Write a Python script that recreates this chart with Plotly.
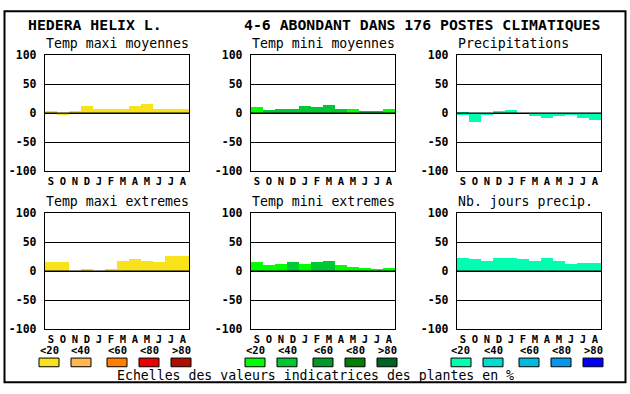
import plotly.graph_objects as go

W, H = 630, 394

# ---------------- data ----------------
months = ["S", "O", "N", "D", "J", "F", "M", "A", "M", "J", "J", "A"]
panel_titles = ["Temp maxi moyennes", "Temp mini moyennes", "Precipitations",
                "Temp maxi extremes", "Temp mini extremes", "Nb. jours precip."]
header_left = "HEDERA HELIX L."
header_right = "4-6 ABONDANT DANS 176 POSTES CLIMATIQUES"
footer = "Echelles des valeurs indicatrices des plantes en %"

tmax_moy = [4, -4, 4, 12, 7, 7, 6, 12, 16, 7, 7, 6]
tmin_moy = [10, 5, 7, 7, 12, 10, 13, 7, 7, 2, 2, 7]
precip = [-3, -16, -4, 3, 5, 0, -6, -8, -6, -4, -8, -13]
tmax_ext = [15, 15, 0, 3, 0, 2, 17, 20, 17, 15, 25, 25]
tmin_ext = [15, 10, 12, 15, 12, 15, 17, 10, 7, 5, 3, 5]
nb_jours = [22, 20, 17, 22, 22, 20, 17, 22, 17, 12, 13, 13]

# abundance class of each bar (0: <20, 1: <40, 2: <60, 3: <80, 4: >80)
cls_tmax_moy = [0] * 12
cls_tmin_moy = [0, 1, 1, 1, 1, 1, 1, 1, 0, 1, 1, 0]
cls_precip = [0] * 12
cls_tmax_ext = [0] * 12
cls_tmin_ext = [0, 0, 0, 1, 0, 1, 1, 0, 0, 0, 0, 0]
cls_nb_jours = [0] * 12

scale_labels = ["<20", "<40", "<60", "<80", ">80"]
yticks = [-100, -50, 0, 50, 100]

warm = ["#F8E21A", "#FFB84F", "#FF8000", "#EA0000", "#B00E00"]
green = ["#00FF00", "#00C832", "#009A28", "#008000", "#006420"]
blue = ["#00FFB0", "#00DDD0", "#00BBE0", "#0099EE", "#0000FF"]

panels = [
    (tmax_moy, cls_tmax_moy, warm),
    (tmin_moy, cls_tmin_moy, green),
    (precip, cls_precip, blue),
    (tmax_ext, cls_tmax_ext, warm),
    (tmin_ext, cls_tmin_ext, green),
    (nb_jours, cls_nb_jours, blue),
]

# ---------------- layout geometry (pixels) ----------------
col_x = [(45, 189), (251, 395), (457, 601)]
row_y = [(50, 170), (214, 334)]

MONO = "DejaVu Sans Mono"

def px(x):
    return x / W

def py(y):
    return 1 - y / H

fig = go.Figure()
layout = dict(
    width=W, height=H,
    margin=dict(l=0, r=0, t=0, b=0),
    paper_bgcolor="white", plot_bgcolor="white",
    showlegend=False, bargap=0,
    font=dict(family=MONO, color="black"),
)
shapes = []
annotations = []

for i, (vals, cls, pal) in enumerate(panels):
    r, c = divmod(i, 3)
    n = "" if i == 0 else str(i + 1)
    xa, ya = "x" + n, "y" + n
    fig.add_trace(go.Bar(
        x=list(range(len(months))), y=vals,
        marker=dict(color=[pal[k] for k in cls], line=dict(width=0)),
        xaxis=xa, yaxis=ya, width=1.0, hoverinfo="y",
    ))
    x0, x1 = col_x[c]
    y0, y1 = row_y[r]
    layout["xaxis" + n] = dict(
        domain=[px(x0), px(x1)], anchor=ya, range=[-0.5, 11.5],
        tickvals=list(range(len(months))), ticktext=months,
        showgrid=False, zeroline=False, ticks="",
        showline=True, mirror=True, linecolor="black", linewidth=1.4,
        tickfont=dict(family=MONO, size=10.5, weight="bold", color="black"),
        ticklabelstandoff=0, fixedrange=True,
    )
    layout["yaxis" + n] = dict(
        domain=[py(y1), py(y0)], anchor=xa, range=[-100, 100],
        tickvals=yticks, ticktext=[str(v) for v in yticks],
        showgrid=True, gridcolor="black", gridwidth=1.4,
        zeroline=False, ticks="",
        showline=True, mirror=True, linecolor="black", linewidth=1.4,
        tickfont=dict(family=MONO, size=11.5, weight="bold", color="black"),
        ticklabelstandoff=5, fixedrange=True,
    )
    # zero line drawn above the bars
    shapes.append(dict(type="line", xref=xa + " domain", yref=ya,
                       x0=0, x1=1, y0=0, y1=0, layer="above",
                       line=dict(color="black", width=1.4)))
    annotations.append(dict(
        text=panel_titles[i], xref="paper", yref="paper",
        x=px(x0 - 1), y=py(y0 - 12), xanchor="left", yanchor="middle",
        showarrow=False, font=dict(family=MONO, size=13.2, color="black"),
    ))

# headers
annotations.append(dict(text=header_left, xref="paper", yref="paper",
                        x=px(26), y=py(18), xanchor="left", yanchor="middle",
                        showarrow=False,
                        font=dict(family=MONO, size=14.8, weight="bold", color="black")))
annotations.append(dict(text=header_right, xref="paper", yref="paper",
                        x=px(242), y=py(18), xanchor="left", yanchor="middle",
                        showarrow=False,
                        font=dict(family=MONO, size=14.8, weight="bold", color="black")))

# colour scale legend
legend_x = [
    [39, 71, 107, 139, 171],
    [245, 277, 313, 345, 377],
    [451, 483, 519, 551, 583],
]
for pal, xs in zip([warm, green, blue], legend_x):
    for k, (lab, col, lx) in enumerate(zip(scale_labels, pal, xs)):
        shapes.append(dict(type="rect", xref="paper", yref="paper",
                           x0=px(lx), x1=px(lx + 20), y0=py(373), y1=py(364),
                           fillcolor=col, line=dict(color="black", width=1)))
        annotations.append(dict(text=lab, xref="paper", yref="paper",
                                x=px(lx + 10), y=py(355.5), xanchor="center",
                                yanchor="middle", showarrow=False,
                                font=dict(family=MONO, size=10.5, weight="bold",
                                          color="black")))

annotations.append(dict(text=footer, xref="paper", yref="paper",
                        x=px(315), y=py(382), xanchor="center", yanchor="middle",
                        showarrow=False,
                        font=dict(family=MONO, size=13.2, color="black")))

# outer frame
shapes.append(dict(type="rect", xref="paper", yref="paper",
                   x0=px(4.5), x1=px(625.5), y0=py(389), y1=py(4.5),
                   line=dict(color="black", width=2), fillcolor="rgba(0,0,0,0)"))

layout["shapes"] = shapes
layout["annotations"] = annotations
fig.update_layout(**layout)
fig.write_html(
    "out.html",
    config={"displayModeBar": False},
    post_script="document.body.style.margin='0';document.body.style.overflow='hidden';",
)
